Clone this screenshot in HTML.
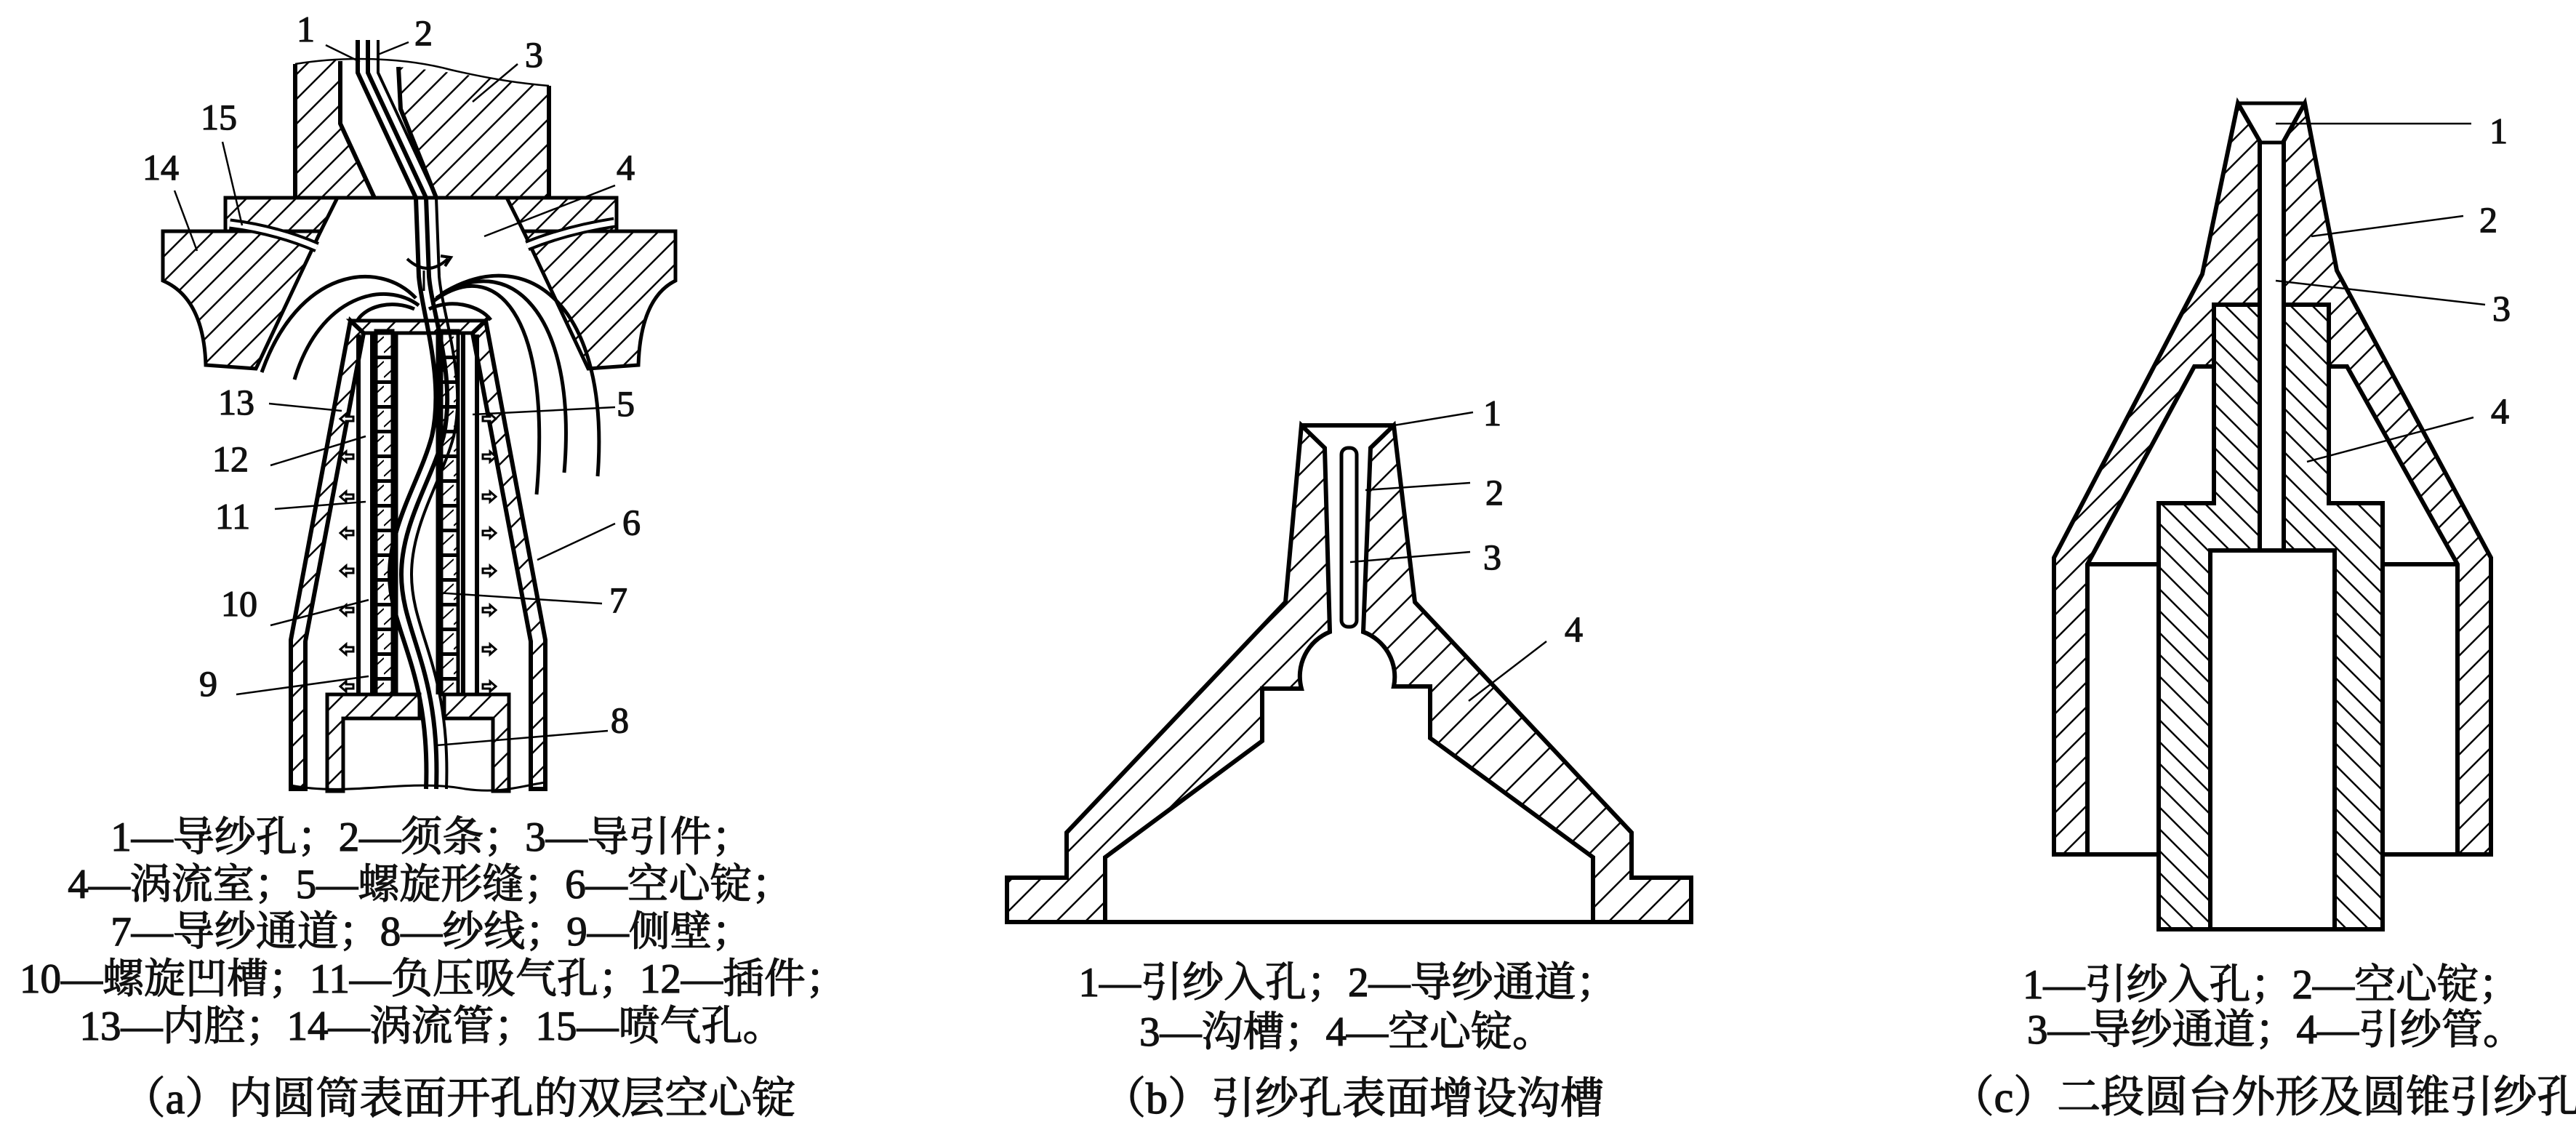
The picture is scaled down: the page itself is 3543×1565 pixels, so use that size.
<!DOCTYPE html>
<html><head><meta charset="utf-8"><style>
html,body{margin:0;padding:0;background:#fff}
svg{display:block}
text{font-family:"Liberation Serif","Noto Serif CJK SC",serif;fill:#111;stroke:#111;stroke-width:1.3px}
</style></head><body>
<svg width="3543" height="1565" viewBox="0 0 3543 1565" xmlns="http://www.w3.org/2000/svg">
<defs>
<pattern id="h1" patternUnits="userSpaceOnUse" width="34" height="34"><path d="M-8,8 L8,-8 M0,34 L34,0 M26,42 L42,26" stroke="#000" stroke-width="2.5"/></pattern>
<pattern id="hb" patternUnits="userSpaceOnUse" width="40" height="40"><path d="M-8,8 L8,-8 M0,40 L40,0 M32,48 L48,32" stroke="#000" stroke-width="2.5"/></pattern>
<pattern id="h2" patternUnits="userSpaceOnUse" width="30" height="30"><path d="M-8,22 L8,38 M0,0 L30,30 M22,-8 L38,8" stroke="#000" stroke-width="2.5"/></pattern>
<pattern id="lad" patternUnits="userSpaceOnUse" width="24" height="34" x="0" y="455"><rect x="0" y="0" width="24" height="5" fill="#000"/><path d="M0,30 L24,8" stroke="#000" stroke-width="2"/></pattern>
</defs>
<g stroke="#000" stroke-linejoin="miter" fill="none">
<!-- ===== Panel (a) ===== -->
<path d="M406,88 C440,82 460,82 468,84 L468,170 L515,272 L406,272 Z" fill="url(#h1)" stroke="none"/>
<path d="M548,92 C620,98 680,110 755,118 L755,272 L600,272 L551,150 Z" fill="url(#h1)" stroke="none"/>
<path d="M406,272 L406,88 M755,118 L755,272 M515,272 L468,170 L468,84 M548,92 L551,150 L600,272" stroke-width="6"/>
<path d="M406,88 C480,76 560,80 620,96 C680,110 720,115 755,118" stroke-width="2.5"/>
<path d="M310,272 L464,272 L441,318 L310,318 Z" fill="url(#h1)" stroke-width="5"/>
<path d="M848,272 L697,272 L720,318 L848,318 Z" fill="url(#h1)" stroke-width="5"/>
<line x1="464" y1="272" x2="697" y2="272" stroke-width="5"/>
<path d="M224,318 L441,318 L352,507 L283,502 Q280,410 224,386 Z" fill="url(#h1)" stroke-width="5"/>
<path d="M929,318 L720,318 L809,507 L878,502 Q881,410 929,386 Z" fill="url(#h1)" stroke-width="5"/>
<path d="M316,308 Q380,316 436,340" stroke-width="15"/>
<path d="M316,308 Q380,316 436,340" stroke="#fff" stroke-width="7"/>
<path d="M725,338 Q780,316 845,306" stroke-width="15"/>
<path d="M725,338 Q780,316 845,306" stroke="#fff" stroke-width="7"/>
<g stroke-width="5">
<path d="M572,410 C520,355 410,370 360,512"/>
<path d="M576,420 C530,385 440,405 405,522"/>
<path d="M595,415 C680,350 760,430 738,680"/>
<path d="M600,410 C700,340 795,430 776,650"/>
<path d="M606,405 C725,330 840,420 822,655"/>
<path d="M590,425 C620,410 660,420 675,440"/>
<path d="M570,425 C540,412 505,420 492,440"/>
</g>
<path d="M560,356 Q588,382 616,356" stroke-width="4"/>
<path d="M606,352 L620,354 L612,366" stroke-width="4"/>
<path d="M583,372 L583,400" stroke-width="3"/>
<path d="M482,441 L400,880 L400,1085 L420,1085 L420,882 L500,458 Z" fill="url(#h1)" stroke-width="6"/>
<path d="M668,441 L750,880 L750,1085 L730,1085 L730,882 L650,458 Z" fill="url(#h1)" stroke-width="6"/>
<path d="M482,441 L668,441 L650,458 L500,458 Z" fill="url(#h1)" stroke-width="5"/>
<path d="M493,460 L493,955 M512,460 L512,955 M637,460 L637,955 M656,460 L656,955" stroke-width="6"/>
<rect x="517" y="455" width="23" height="500" fill="url(#lad)" stroke-width="5"/>
<rect x="607" y="455" width="23" height="500" fill="url(#lad)" stroke-width="5"/>
<line x1="545" y1="460" x2="545" y2="955" stroke-width="5"/>
<line x1="602" y1="460" x2="602" y2="955" stroke-width="5"/>
<g stroke-width="3" fill="#fff">
<path d="M468,576 l8,-7 v4 h10 v6 h-10 v4 Z"/><path d="M468,628 l8,-7 v4 h10 v6 h-10 v4 Z"/><path d="M468,683 l8,-7 v4 h10 v6 h-10 v4 Z"/><path d="M468,733 l8,-7 v4 h10 v6 h-10 v4 Z"/><path d="M468,785 l8,-7 v4 h10 v6 h-10 v4 Z"/><path d="M468,839 l8,-7 v4 h10 v6 h-10 v4 Z"/><path d="M468,893 l8,-7 v4 h10 v6 h-10 v4 Z"/><path d="M468,944 l8,-7 v4 h10 v6 h-10 v4 Z"/>
<path d="M682,576 l-8,-7 v4 h-10 v6 h10 v4 Z"/><path d="M682,628 l-8,-7 v4 h-10 v6 h10 v4 Z"/><path d="M682,683 l-8,-7 v4 h-10 v6 h10 v4 Z"/><path d="M682,733 l-8,-7 v4 h-10 v6 h10 v4 Z"/><path d="M682,785 l-8,-7 v4 h-10 v6 h10 v4 Z"/><path d="M682,839 l-8,-7 v4 h-10 v6 h10 v4 Z"/><path d="M682,893 l-8,-7 v4 h-10 v6 h10 v4 Z"/><path d="M682,944 l-8,-7 v4 h-10 v6 h10 v4 Z"/>
</g>
<path d="M450,955 L577,955 L577,988 L472,988 L472,1088 L450,1088 Z" fill="url(#h1)" stroke-width="5"/>
<path d="M611,955 L700,955 L700,1088 L678,1088 L678,988 L611,988 Z" fill="url(#h1)" stroke-width="5"/>
<path d="M400,1080 C480,1096 560,1070 640,1085 C690,1092 720,1080 750,1076" stroke-width="3"/>
<g stroke-width="6">
<path d="M492,55 L492,100 L572,272 L576,380 C580,430 612,520 594,600 C578,660 536,720 536,790 C536,870 592,920 586,1085"/>
<path d="M506,55 L506,100 L586,272 L590,380 C594,430 628,520 610,600 C594,660 552,720 552,790 C552,870 606,920 600,1085"/>
<path d="M520,55 L520,100 L600,272 L604,380 C608,430 642,520 624,600 C608,660 566,720 566,790 C566,870 620,920 614,1085" stroke-width="4"/>
</g>
<g stroke-width="2.5">
<path d="M448,62 L495,85"/><path d="M562,58 L520,75"/><path d="M712,88 L650,140"/>
<path d="M306,195 L333,310"/><path d="M240,262 L271,345"/><path d="M846,255 L666,325"/>
<path d="M370,555 L470,565"/><path d="M372,640 L503,600"/><path d="M378,700 L503,690"/>
<path d="M372,860 L507,825"/><path d="M325,955 L507,930"/><path d="M846,560 L650,570"/>
<path d="M846,720 L739,770"/><path d="M828,830 L600,815"/><path d="M836,1005 L600,1025"/>
</g>

<!-- ===== Panel (b) ===== -->
<path d="M1385,1268 L1385,1207 L1467,1207 L1467,1145 L1768,828 L1790,585 L1822,616 L1829,869 A66,66 0 0 0 1790,947 L1736,947 L1736,1019 L1520,1179 L1520,1268 Z" fill="url(#hb)" stroke-width="6"/>
<path d="M2326,1268 L2326,1207 L2244,1207 L2244,1145 L1946,828 L1917,585 L1885,616 L1875,869 A66,66 0 0 1 1917,944 L1967,944 L1967,1015 L2191,1179 L2191,1268 Z" fill="url(#hb)" stroke-width="6"/>
<path d="M1790,585 L1917,585" stroke-width="6"/>
<path d="M1520,1268 L2191,1268" stroke-width="6"/>
<rect x="1845" y="616" width="21" height="246" rx="9" fill="#fff" stroke-width="5"/>
<g stroke-width="2.5">
<path d="M2026,567 L1905,587"/><path d="M2022,664 L1878,674"/><path d="M2022,759 L1857,773"/><path d="M2127,882 L2020,964"/>
</g>

<!-- ===== Panel (c) ===== -->
<path d="M3078,142 L3108,194 L3108,419 L3045,419 L3045,504 L3018,504 L2871,776 L2871,1175 L2825,1175 L2825,767 L3029,377 Z" fill="url(#h1)" stroke-width="6"/>
<path d="M3170,142 L3141,194 L3141,419 L3203,419 L3203,504 L3228,504 L3380,776 L3380,1175 L3426,1175 L3426,767 L3214,372 Z" fill="url(#h1)" stroke-width="6"/>
<path d="M3078,142 L3170,142 M3108,196 L3141,196" stroke-width="5"/>
<path d="M3045,419 L3108,419 L3108,757 L3040,757 L3040,1278 L2969,1278 L2969,692 L3045,692 Z" fill="url(#h2)" stroke-width="6"/>
<path d="M3203,419 L3141,419 L3141,757 L3211,757 L3211,1278 L3277,1278 L3277,692 L3203,692 Z" fill="url(#h2)" stroke-width="6"/>
<path d="M2825,1175 L2969,1175 M3277,1175 L3426,1175 M2871,776 L2969,776 M3277,776 L3380,776 M3040,757 L3211,757 M2969,1278 L3277,1278" stroke-width="6"/>
<g stroke-width="2.5">
<path d="M3399,170 L3130,170"/><path d="M3388,297 L3179,325"/><path d="M3418,419 L3130,386"/><path d="M3402,574 L3173,635"/>
</g>
</g>

<g font-size="50">
<text x="408" y="57">1</text><text x="570" y="62">2</text><text x="722" y="92">3</text>
<text x="276" y="178">15</text><text x="196" y="247">14</text><text x="848" y="247">4</text>
<text x="300" y="570">13</text><text x="292" y="648">12</text><text x="296" y="727">11</text>
<text x="304" y="847">10</text><text x="274" y="957">9</text>
<text x="848" y="572">5</text><text x="856" y="735">6</text><text x="838" y="842">7</text><text x="840" y="1007">8</text>
<text x="2040" y="585">1</text><text x="2043" y="694">2</text><text x="2040" y="783">3</text><text x="2152" y="882">4</text>
<text x="3424" y="197">1</text><text x="3410" y="319">2</text><text x="3428" y="441">3</text><text x="3426" y="582">4</text>
</g>

<g font-size="57" text-anchor="middle">
<text x="594" y="1170">1—导纱孔；2—须条；3—导引件；</text>
<text x="592" y="1235">4—涡流室；5—螺旋形缝；6—空心锭；</text>
<text x="594" y="1300">7—导纱通道；8—纱线；9—侧壁；</text>
<text x="596" y="1365">10—螺旋凹槽；11—负压吸气孔；12—插件；</text>
<text x="594" y="1430">13—内腔；14—涡流管；15—喷气孔。</text>
<text x="1854" y="1370">1—引纱入孔；2—导纱通道；</text>
<text x="1852" y="1438">3—沟槽；4—空心锭。</text>
<text x="3124" y="1373">1—引纱入孔；2—空心锭；</text>
<text x="3130" y="1435">3—导纱通道；4—引纱管。</text>
</g>
<g font-size="60" text-anchor="middle">
<text x="631" y="1531">（a）内圆筒表面开孔的双层空心锭</text>
<text x="1861" y="1531">（b）引纱孔表面增设沟槽</text>
<text x="3116" y="1529">（c）二段圆台外形及圆锥引纱孔</text>
</g>
</svg>
</body></html>
